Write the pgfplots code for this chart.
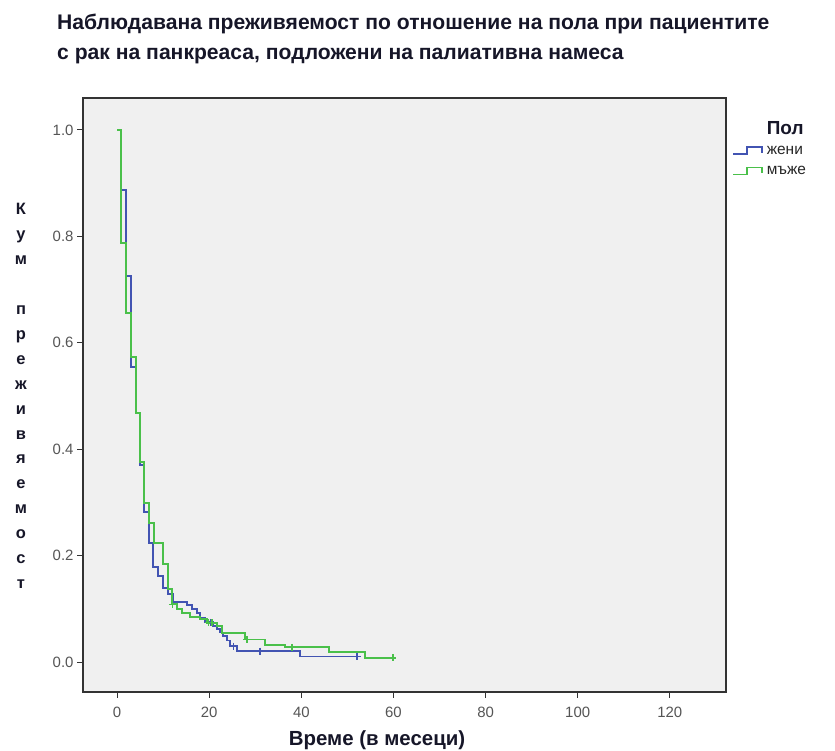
\documentclass[border=0pt]{standalone}
\usepackage{fontspec}
\setmainfont{Liberation Sans}
\usepackage{pgfplots}
\pgfplotsset{compat=1.18}
\definecolor{cblue}{RGB}{66,84,178}
\definecolor{cgreen}{RGB}{74,192,74}
\definecolor{bgg}{RGB}{240,240,240}
\definecolor{tickgray}{RGB}{85,85,85}
\definecolor{labc}{RGB}{22,22,40}
\begin{document}
\begin{tikzpicture}[x=1bp,y=1bp]
\path[use as bounding box] (0,0) rectangle (835,751);
\node[anchor=north west, align=left, font=\bfseries\fontsize{21.2}{30}\selectfont, inner sep=0pt, text=labc] at (57,737)
 {Наблюдавана преживяемост по отношение на пола при пациентите\\с рак на панкреаса, подложени на палиативна намеса};
\begin{axis}[
  at={(83bp,59bp)}, anchor=south west,
  width=643bp, height=594bp, scale only axis,
  xmin=-7.4, xmax=132.2, ymin=-0.056, ymax=1.06,
  axis background/.style={fill=bgg},
  axis line style={draw=black!80, line width=1.2bp},
  xtick={0,20,40,60,80,100,120},
  ytick={0,0.2,0.4,0.6,0.8,1.0},
  tick align=outside, tick pos=left,
  major tick length=6bp,
  every tick/.style={black!80, line width=1bp},
  /pgf/number format/assume math mode=true,
  ticklabel style={font=\fontsize{15}{17}\selectfont, text=tickgray},
  yticklabel style={/pgf/number format/.cd, fixed, fixed zerofill, precision=1},
  xticklabel style={yshift=-6bp, /pgf/number format/.cd, fixed, precision=0},
  legend style={at={(1,1)}, anchor=north west, xshift=5bp, yshift=-20bp,
    draw=none, fill=none, font=\fontsize{15.5}{17}\selectfont, text=black!85,
    row sep=6.5bp, inner sep=1bp},
  legend cell align=left,
  legend image code/.code={\draw[#1, line width=1.6bp] (0bp,-3bp) -- (14bp,-3bp) -- (14bp,4bp) -- (29bp,4bp) -- (29bp,-2bp);},
]
\addlegendimage{empty legend}
\addlegendentry{\hspace{2bp}\bfseries\fontsize{19}{20}\selectfont\color{labc}Пол\rule[-6bp]{0pt}{1bp}}
\addplot[const plot, cblue, line width=1.6bp] coordinates {
(0,1.0) (0.87,0.887) (1.95,0.726) (3.04,0.555) (4.12,0.468) (4.99,0.370)
(5.86,0.282) (6.94,0.224) (7.81,0.179) (8.9,0.162) (9.98,0.139) (11.07,0.128)
(12.15,0.113) (15.2,0.107) (16.3,0.100) (17.4,0.092) (18.0,0.083) (19.1,0.075)
(20.8,0.068) (21.7,0.062) (22.4,0.056) (23.0,0.049) (23.9,0.041) (24.5,0.030)
(26.0,0.021) (39.7,0.011) (52.1,0.011)};
\addlegendentry{\hspace{2bp}жени}
\addplot[const plot, cgreen, line width=1.6bp] coordinates {
(0,1.0) (0.87,0.788) (1.95,0.656) (3.04,0.573) (4.12,0.468) (4.99,0.376)
(5.86,0.299) (6.94,0.261) (8.03,0.224) (9.98,0.184) (11.07,0.137) (11.9,0.109)
(13.0,0.100) (14.1,0.092) (15.8,0.085) (18.0,0.081) (19.5,0.074) (21.7,0.068)
(22.8,0.055) (27.8,0.043) (32.1,0.032) (36.5,0.028) (46.0,0.019) (53.8,0.008)
(59.9,0.008)};
\addlegendentry{\hspace{2bp}мъже}
\addplot[only marks, mark=+, mark size=3.5bp, cblue, mark options={line width=1.3bp}, forget plot] coordinates {
(20.3,0.075) (25.3,0.030) (31.0,0.021) (52.1,0.011)};
\addplot[only marks, mark=+, mark size=3.5bp, cgreen, mark options={line width=1.3bp}, forget plot] coordinates {
(12.0,0.109) (19.8,0.074) (20.6,0.074) (28.2,0.043) (38.0,0.028) (59.9,0.008)};
\end{axis}
\node[font=\bfseries\fontsize{20.5}{22}\selectfont, text=labc] at (377,11) {Време (в месеци)};
\node[align=center, font=\bfseries\fontsize{16.5}{25}\selectfont, text=labc, inner sep=0pt] at (21,355)
 {К\\у\\м\\\mbox{}\\п\\р\\е\\ж\\и\\в\\я\\е\\м\\о\\с\\т};
\end{tikzpicture}
\end{document}
